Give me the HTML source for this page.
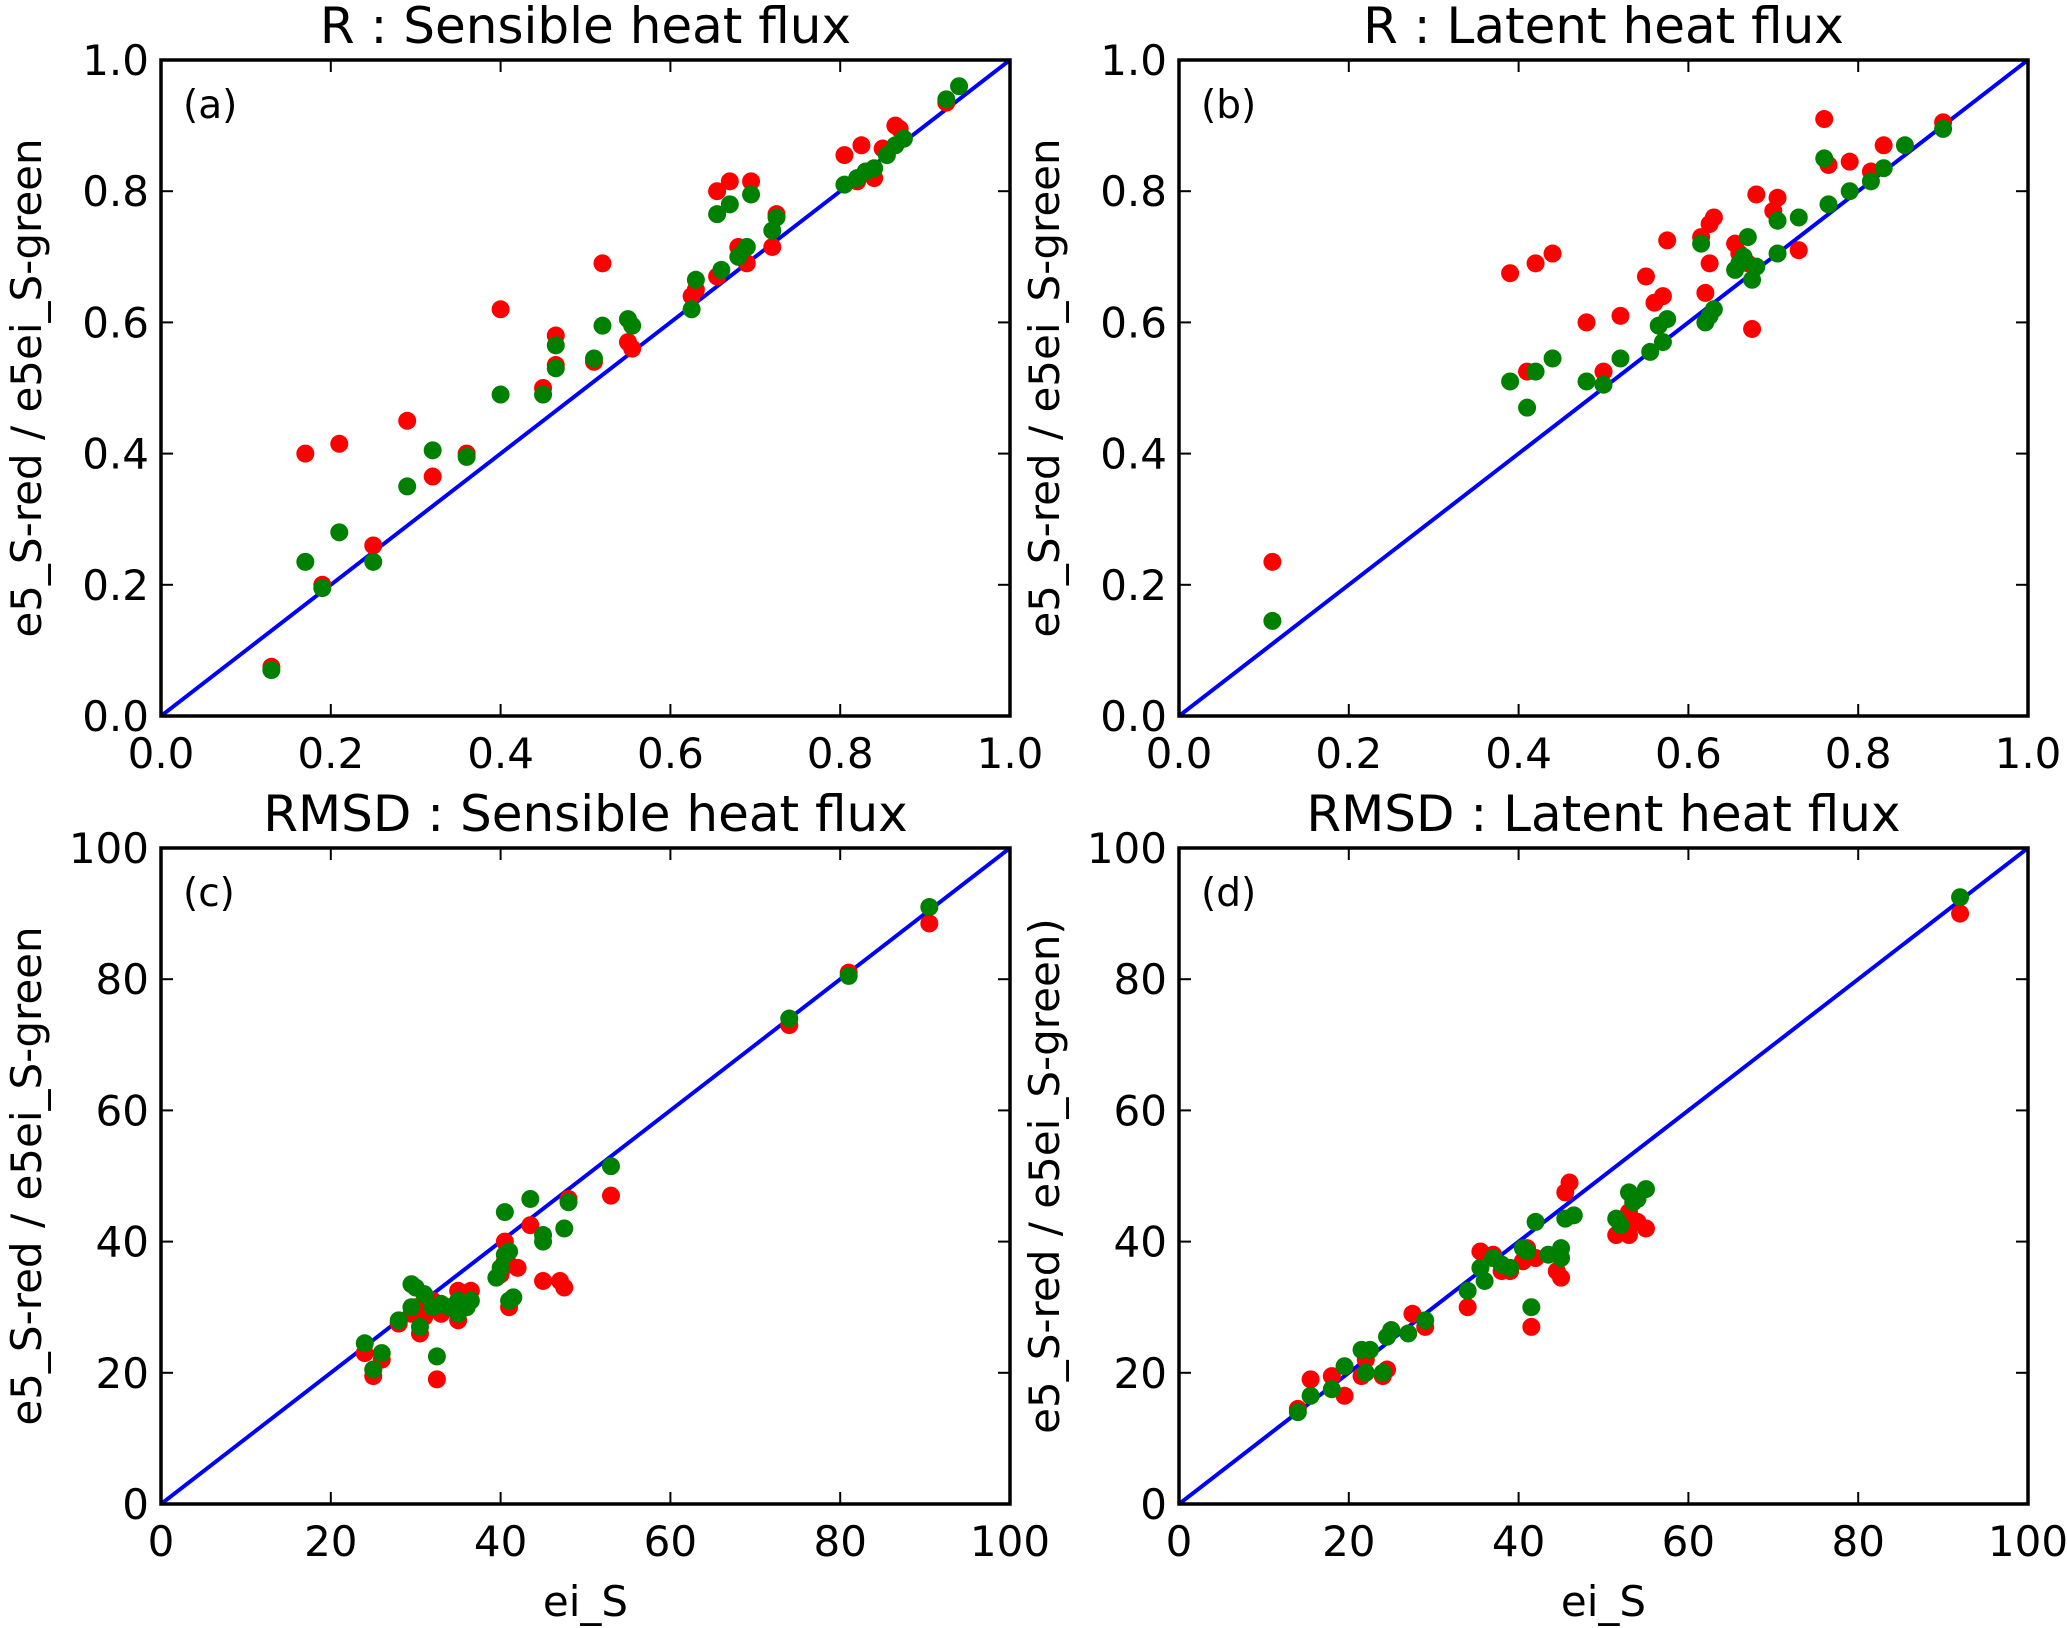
<!DOCTYPE html>
<html><head><meta charset="utf-8"><style>
html,body{margin:0;padding:0;background:#fff}
svg{display:block}
text{font-family:"DejaVu Sans","Liberation Sans",sans-serif;fill:#000}
</style></head><body>
<svg id="fig" width="2067" height="1628" viewBox="0 0 2067 1628" xmlns="http://www.w3.org/2000/svg"></svg>
<script>
const aRedX=[0.13,0.17,0.21,0.19,0.25,0.29,0.32,0.36,0.40,0.45,0.465,0.465,0.51,0.52,0.55,0.555,0.625,0.63,0.655,0.655,0.67,0.68,0.69,0.695,0.72,0.725,0.805,0.82,0.825,0.84,0.85,0.865,0.87,0.925];
const aRedY=[0.075,0.40,0.415,0.20,0.26,0.45,0.365,0.40,0.62,0.50,0.58,0.535,0.54,0.69,0.57,0.56,0.64,0.65,0.80,0.67,0.815,0.715,0.69,0.815,0.715,0.765,0.855,0.815,0.87,0.82,0.865,0.90,0.895,0.935];
const aGreenX=[0.13,0.17,0.21,0.19,0.25,0.29,0.32,0.36,0.40,0.45,0.465,0.465,0.51,0.52,0.55,0.555,0.625,0.63,0.655,0.66,0.67,0.68,0.69,0.695,0.72,0.725,0.805,0.82,0.83,0.84,0.855,0.865,0.875,0.925,0.94];
const aGreenY=[0.07,0.235,0.28,0.195,0.235,0.35,0.405,0.395,0.49,0.49,0.565,0.53,0.545,0.595,0.605,0.595,0.62,0.665,0.765,0.68,0.78,0.70,0.715,0.795,0.74,0.76,0.81,0.82,0.83,0.835,0.855,0.87,0.88,0.94,0.96];
const bRedX=[0.11,0.39,0.41,0.42,0.44,0.48,0.50,0.52,0.55,0.56,0.57,0.575,0.615,0.62,0.625,0.625,0.63,0.655,0.66,0.67,0.675,0.68,0.70,0.705,0.73,0.76,0.765,0.79,0.815,0.83,0.90];
const bRedY=[0.235,0.675,0.525,0.69,0.705,0.60,0.525,0.61,0.67,0.63,0.64,0.725,0.73,0.645,0.69,0.75,0.76,0.72,0.705,0.69,0.59,0.795,0.77,0.79,0.71,0.91,0.84,0.845,0.83,0.87,0.905];
const bGreenX=[0.11,0.39,0.41,0.42,0.44,0.48,0.50,0.52,0.555,0.565,0.57,0.575,0.615,0.62,0.625,0.63,0.655,0.66,0.665,0.67,0.675,0.68,0.705,0.705,0.73,0.76,0.765,0.79,0.815,0.83,0.855,0.90];
const bGreenY=[0.145,0.51,0.47,0.525,0.545,0.51,0.505,0.545,0.555,0.595,0.57,0.605,0.72,0.60,0.61,0.62,0.68,0.69,0.70,0.73,0.665,0.685,0.705,0.755,0.76,0.85,0.78,0.80,0.815,0.835,0.87,0.895];
const cRedX=[24,25,26,28,29.5,30,30.5,31,32,32.5,33,34,35,35,36,36.5,40,40.5,40.5,41,41,42,43.5,45,47,47.5,48,53,74,81,90.5];
const cRedY=[23,19.5,22,27.5,29,30,26,28.5,31,19,29,30,28,32.5,31,32.5,35,37,40,30,36.5,36,42.5,34,34,33,46.5,47,73,81,88.5];
const cGreenX=[24,25,26,28,29.5,29.5,30,30.5,31,32,32.5,33,34,35,35,36,36.5,39.5,40,40.5,40.5,41,41,41.5,43.5,45,45,47.5,48,53,74,81,90.5];
const cGreenY=[24.5,20.5,23,28,30,33.5,33,27,32,30,22.5,30.5,30,29,31,30,31,34.5,36,38,44.5,31,38.5,31.5,46.5,41,40,42,46,51.5,74,80.5,91];
const dRedX=[14,15.5,18,19.5,21.5,22,24,24.5,25,27.5,29,34,35.5,37,38,39,40.5,41,41.5,42,44.5,45,45.5,46,51.5,53,53,54,55,92];
const dRedY=[14.5,19,19.5,16.5,19.5,22,19.5,20.5,26.5,29,27,30,38.5,38,35.5,35.5,37,39,27,37.5,35.5,34.5,47.5,49,41,41,44.5,43,42,90];
const dGreenX=[14,15.5,18,19.5,21.5,22,22.5,24,24.5,25,27,29,34,35.5,36,37,38,39,40.5,41,41.5,42,43.5,45,45,45.5,46.5,51.5,52,53,53.5,54,55,92];
const dGreenY=[14,16.5,17.5,21,23.5,20,23.5,20,25.5,26.5,26,28,32.5,36,34,37.5,36.5,36,39,38.5,30,43,38,37.5,39,43.5,44,43.5,42.5,47.5,46,46.5,48,92.5];
const rTicks=["0.0","0.2","0.4","0.6","0.8","1.0"];
const mTicks=["0","20","40","60","80","100"];

const NS="http://www.w3.org/2000/svg";
const svg=document.getElementById('fig');
function mk(tag,attrs,parent,txt){const e=document.createElementNS(NS,tag);for(const k in attrs)e.setAttribute(k,attrs[k]);if(txt!==undefined)e.textContent=txt;(parent||svg).appendChild(e);return e;}

function panel(id,L,R,T,B,maxv,ticks,title,tag,ylabel,xlabel,rx,ry,gx,gy){
  const g=mk('g',{});
  
  
  const sx=v=>L+(v/maxv)*(R-L), sy=v=>B-(v/maxv)*(B-T);
  const t=mk('text',{x:(L+R)/2,y:T-17,'font-size':50,'text-anchor':'middle'},g,title);
  
  
  ticks.forEach((lab,i)=>{
    const v=maxv*i/(ticks.length-1);
    const x=sx(v),y=sy(v);
    mk('line',{x1:x,x2:x,y1:B,y2:B-12,stroke:'#000','stroke-width':2},g);
    mk('line',{x1:x,x2:x,y1:T,y2:T+12,stroke:'#000','stroke-width':2},g);
    mk('line',{x1:L,x2:L+12,y1:y,y2:y,stroke:'#000','stroke-width':2},g);
    mk('line',{x1:R,x2:R-12,y1:y,y2:y,stroke:'#000','stroke-width':2},g);
    const xt=mk('text',{x:x,y:B+52,'font-size':42,'text-anchor':'middle'},g,lab);
    
    
    const yt=mk('text',{x:L-12,y:y+15,'font-size':42,'text-anchor':'end'},g,lab);
    
    
  });
  const yl=mk('text',{x:0,y:0,'font-size':42,'text-anchor':'middle',transform:`translate(${L-120},${(T+B)/2}) rotate(-90)`},g,ylabel);
  
  
  if(xlabel){const xl=mk('text',{x:(L+R)/2,y:B+112,'font-size':42,'text-anchor':'middle'},g,xlabel);
    
    }
  const pl=mk('text',{x:L+22,y:T+58,'font-size':39},g,tag);
  
  
  const cp=mk('clipPath',{id:'cp'+id},g);
  mk('rect',{x:L,y:T,width:R-L,height:B-T},cp);
  const pts=mk('g',{'clip-path':`url(#cp${id})`},g);
  const ln=mk('line',{x1:sx(0),y1:sy(0),x2:sx(maxv),y2:sy(maxv),stroke:'#0000ff','stroke-width':4},pts);
  
  
  rx.forEach((v,i)=>{const c=mk('circle',{cx:sx(v),cy:sy(ry[i]),r:9,fill:'#ff0000'},pts);
    
    });
  gx.forEach((v,i)=>{const c=mk('circle',{cx:sx(v),cy:sy(gy[i]),r:9,fill:'#008000'},pts);
    
    });
  const fr=mk('rect',{x:L,y:T,width:R-L,height:B-T,fill:'none',stroke:'#000','stroke-width':3.5},g);
  
  
}
panel('a',161,1010,60,716,1,rTicks,'R : Sensible heat flux','(a)','e5_S-red / e5ei_S-green','',aRedX,aRedY,aGreenX,aGreenY);
panel('b',1179,2028,60,716,1,rTicks,'R : Latent heat flux','(b)','e5_S-red / e5ei_S-green','',bRedX,bRedY,bGreenX,bGreenY);
panel('c',161,1010,848,1504,100,mTicks,'RMSD : Sensible heat flux','(c)','e5_S-red / e5ei_S-green','ei_S',cRedX,cRedY,cGreenX,cGreenY);
panel('d',1179,2028,848,1504,100,mTicks,'RMSD : Latent heat flux','(d)','e5_S-red / e5ei_S-green)','ei_S',dRedX,dRedY,dGreenX,dGreenY);
</script>
</body></html>
